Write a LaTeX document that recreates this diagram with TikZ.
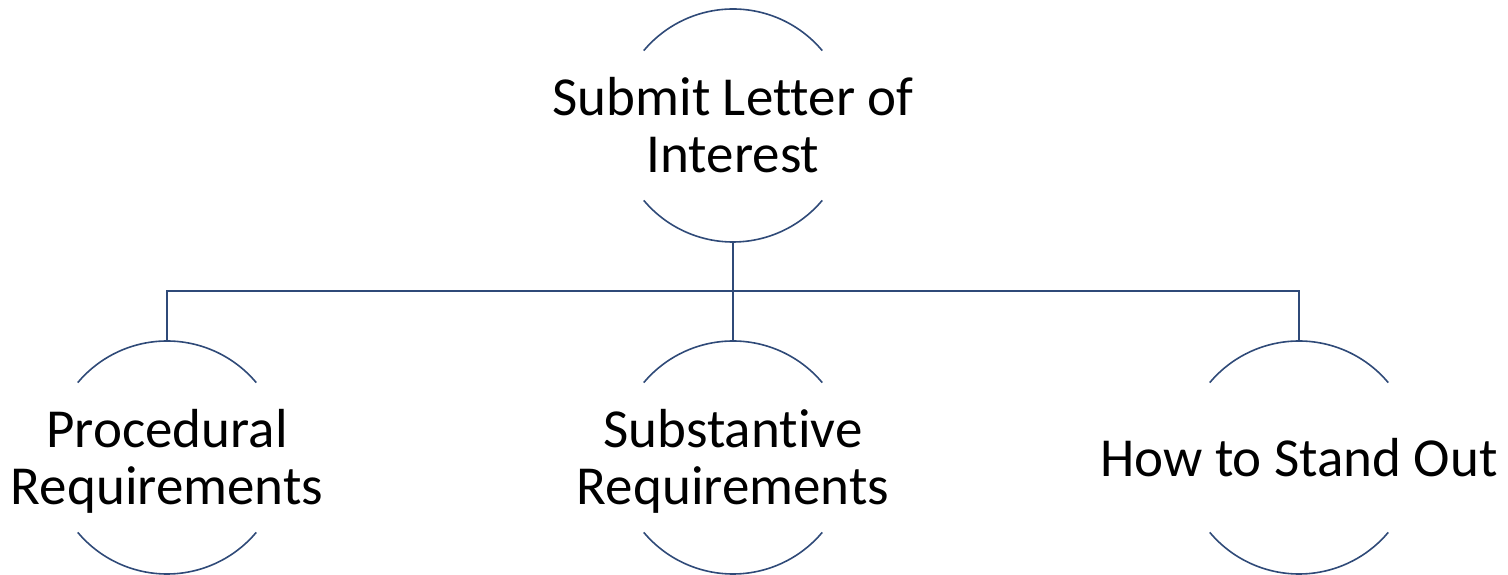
\documentclass[tikz,border=0pt]{standalone}
\usepackage{fontspec}
\setmainfont{Carlito}[Ligatures=NoCommon]
\definecolor{ringblue}{HTML}{2F4A78}
\begin{document}
\begin{tikzpicture}[x=1pt,y=1pt,
  topic/.style={circle, minimum size=233pt, inner sep=0pt, outer sep=0pt},
  caption/.style={anchor=base, align=center, inner sep=0pt,
    font=\fontsize{55}{57.5}\selectfont, text=black},
  ring/.style={draw=ringblue, line width=1.6pt},
  conn/.style={draw=ringblue, line width=1.6pt}]
  \useasboundingbox (0,0) rectangle (1508,575);

  \node[topic] (top)   at (733,449.5) {};
  \node[topic] (proc)  at (167,117.5) {};
  \node[topic] (subst) at (733,117.5) {};
  \node[topic] (stand) at (1299,117.5) {};

  % captions are anchored on the baseline of their last line
  \node[caption] (topT)   at (733,402)  {Submit Letter of\\Interest};
  \node[caption] (procT)  at (167,70)   {Procedural\\Requirements};
  \node[caption] (substT) at (733,70)   {Substantive\\Requirements};
  \node[caption] (standT) at (1299,98)  {How to Stand Out};

  % upper and lower arcs of each circle
  \foreach \n in {top,proc,subst,stand}{
    \draw[ring] (\n.40) arc[start angle=40, end angle=140, radius=116.5pt];
    \draw[ring] (\n.220) arc[start angle=220, end angle=320, radius=116.5pt];
  }

  % tree connectors
  \draw[conn] (top.south) -- ++(0,-49) coordinate (j);
  \draw[conn] (proc.north) |- (j) -| (stand.north);
  \draw[conn] (j) -- (subst.north);
\end{tikzpicture}
\end{document}
